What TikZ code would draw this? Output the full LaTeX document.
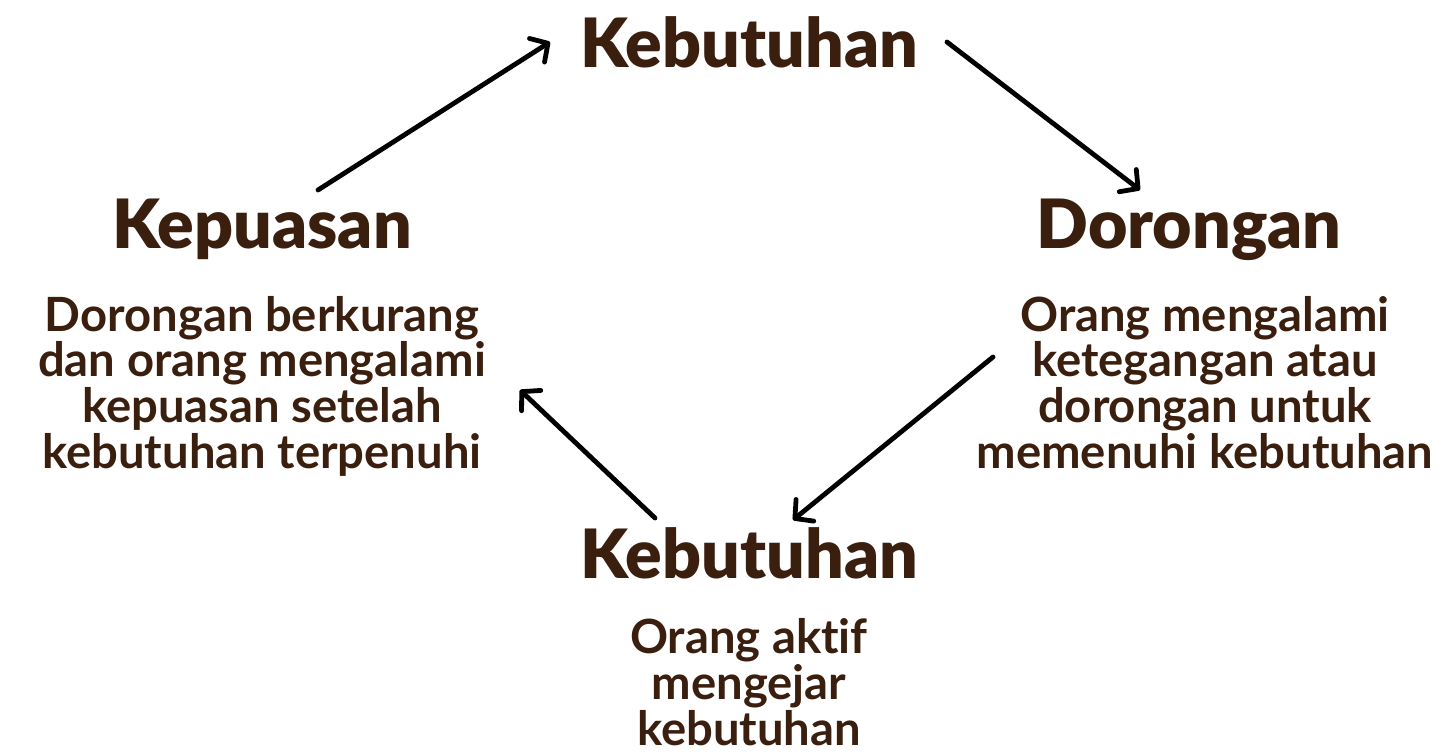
\documentclass[tikz,border=0pt]{standalone}
\usepackage{fontspec}
\setmainfont{Lato}[Ligatures=NoCommon]
\newfontfamily\headfont{Lato Black}[Ligatures=NoCommon]
\usetikzlibrary{arrows.meta}
\usetikzlibrary{positioning}
\definecolor{brownish}{HTML}{3A1F0F}
\tikzstyle{head_node} = [
    text=brownish,
    font=\headfont\fontsize{34}{36}\selectfont,
    inner sep=0pt,
    anchor=base
]
\tikzstyle{body_node} = [
    text=brownish,
    font=\bfseries\fontsize{23.6}{22.8}\selectfont,
    align=center,
    inner sep=0pt,
    anchor=base % last line
]
\tikzstyle{cycle_arrow} = [
    draw=black,
    line width=2.4pt,
    line cap=round,
    -{Straight Barb[length=6.5pt, width=14pt, line cap=round, line join=round]}
]
\begin{document}
\begin{tikzpicture}[x=0.5pt, y=-0.5pt]
\useasboundingbox (0,0) rectangle (1453,755);
% titles
\node [head_node] (need_top) at (749,68) {Kebutuhan};
\node [head_node] (satis) at (262,248) {Kepuasan};
\node [head_node] (drive) at (1189,248) {Dorongan};
\node [head_node] (need_bot) at (749,578) {Kebutuhan};
% descriptions
\node [body_node] (satis_txt) at (262,468) {Dorongan berkurang\\dan orang mengalami\\kepuasan setelah\\kebutuhan terpenuhi};
\node [body_node] (drive_txt) at (1205,468) {Orang mengalami\\ketegangan atau\\dorongan untuk\\memenuhi kebutuhan};
\node [body_node] (need_txt) at (749,745) {Orang aktif\\mengejar\\kebutuhan};
% cycle
\draw [cycle_arrow] ([shift={(56,-58)}]satis.base) -- ([shift={(-199,-26)}]need_top.base);
\draw [cycle_arrow] ([shift={(198,-26)}]need_top.base) -- ([shift={(-49,-58)}]drive.base);
\draw [cycle_arrow] ([shift={(-212,-111)}]drive_txt.base) -- ([shift={(44,-58)}]need_bot.base);
\draw [cycle_arrow] ([shift={(-94,-60)}]need_bot.base) -- ([shift={(258,-78)}]satis_txt.base);
\end{tikzpicture}
\end{document}
